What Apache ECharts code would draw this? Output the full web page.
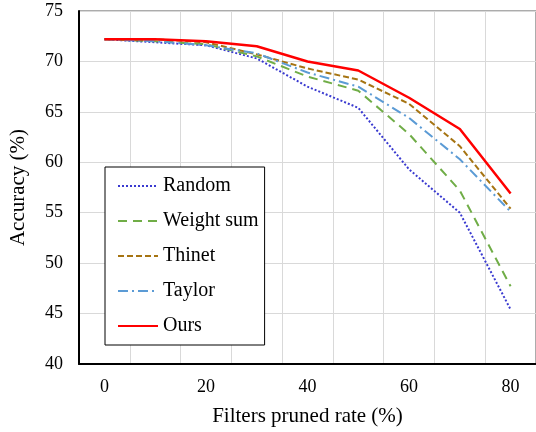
<!DOCTYPE html>
<html>
<head>
<meta charset="utf-8">
<script src="https://cdn.jsdelivr.net/npm/echarts@6/dist/echarts.min.js"></script>
<style>
    html, body { margin: 0; padding: 0; background: #fff; }
</style>
</head>
<body>
<div id="chart" style="width: 536px; height: 432px"></div>
<script>
// pruned rate categories (%)
const rates = ['0', '10', '20', '30', '40', '50', '60', '70', '80']
const randomAcc = [72.2, 71.9, 71.6, 70.3, 67.5, 65.4, 59.3, 55.0, 45.4]
const weightSumAcc = [72.2, 72.0, 71.7, 70.5, 68.5, 67.1, 62.8, 57.2, 47.7]
const thinetAcc = [72.2, 72.2, 71.9, 70.7, 69.3, 68.2, 65.8, 61.6, 55.4]
const taylorAcc = [72.2, 72.0, 71.6, 70.8, 68.9, 67.5, 64.4, 60.3, 55.1]
const oursAcc = [72.2, 72.2, 72.0, 71.5, 70.0, 69.1, 66.4, 63.3, 56.9]

const font = '"Liberation Serif", "Times New Roman", serif'

let charts = echarts.init(document.getElementById('chart'))

function lineSeries(name, data, color, type, width) {
    return {
        name: name,
        type: 'line',
        data: data,
        symbol: 'none',
        lineStyle: { color: color, width: width, type: type },
        itemStyle: { color: color }
    }
}

charts.setOption({
    animation: false,
    textStyle: { fontFamily: font },
    grid: {
        left: 77,
        right: -3,
        top: 11,
        bottom: 66,
        show: true,
        borderColor: '#595959',
        borderWidth: 1
    },
    legend: {
        orient: 'vertical',
        left: 105,
        top: 167,
        padding: [9, 6, 9, 12],
        itemGap: 15,
        itemWidth: 40,
        itemHeight: 14,
        backgroundColor: '#fff',
        borderColor: '#000',
        borderWidth: 1,
        // hide the marker, keep only the line sample
        itemStyle: { color: 'transparent', borderColor: 'transparent', borderWidth: 0 },
        textStyle: { fontFamily: font, fontSize: 20, color: '#000' },
        data: ['Random', 'Weight sum', 'Thinet', 'Taylor', 'Ours']
    },
    xAxis: {
        type: 'category',
        data: rates,
        boundaryGap: true,
        name: 'Filters pruned rate (%)',
        nameLocation: 'middle',
        nameGap: 42,
        nameTextStyle: { fontFamily: font, fontSize: 21, color: '#000' },
        axisLine: { lineStyle: { color: '#000', width: 2 } },
        axisTick: { show: false },
        axisLabel: { interval: 1, margin: 14, fontFamily: font, fontSize: 18, color: '#000' },
        splitLine: { show: true, interval: 0, lineStyle: { color: '#d9d9d9', width: 1 } }
    },
    yAxis: {
        type: 'value',
        min: 40,
        max: 75,
        interval: 5,
        name: 'Accuracy (%)',
        nameLocation: 'middle',
        nameGap: 50,
        nameTextStyle: { fontFamily: font, fontSize: 21, color: '#000' },
        axisLine: { show: true, lineStyle: { color: '#000', width: 2 } },
        axisTick: { show: false },
        axisLabel: { margin: 16, fontFamily: font, fontSize: 18, color: '#000' },
        splitLine: { show: true, lineStyle: { color: '#d9d9d9', width: 1 } }
    },
    series: [
        lineSeries('Random', randomAcc, '#3A3AD0', [2, 2], 2),
        lineSeries('Weight sum', weightSumAcc, '#70AD47', [9, 6], 2),
        lineSeries('Thinet', thinetAcc, '#A67412', [6, 3], 2),
        lineSeries('Taylor', taylorAcc, '#5B9BD5', [10, 4, 2, 4], 2),
        lineSeries('Ours', oursAcc, '#FF0000', 'solid', 2.5)
    ]
})

window.addEventListener('resize', () => {
    charts.resize()
})
</script>
</body>
</html>
